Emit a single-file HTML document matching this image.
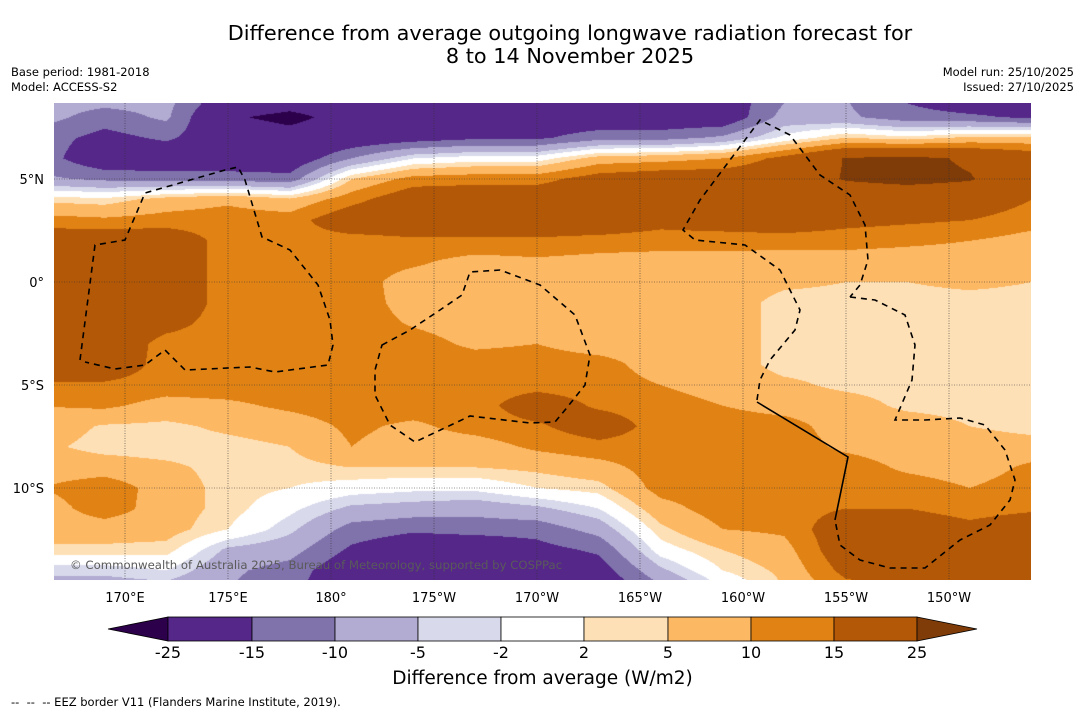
<!DOCTYPE html>
<html><head><meta charset="utf-8"><style>
body{margin:0;background:#fff;font-family:"DejaVu Sans","Liberation Sans",sans-serif;}
#wrap{position:relative;width:1085px;height:713px;overflow:hidden;background:#fff}
.t{position:absolute;white-space:pre;color:#000}
</style></head><body>
<div id="wrap">
<div class="t" style="left:0;width:1140px;text-align:center;top:22px;font-size:20.8px;line-height:23px">Difference from average outgoing longwave radiation forecast for
8 to 14 November 2025</div>
<div class="t" style="left:11px;top:65px;font-size:11.5px;line-height:15px">Base period: 1981-2018
Model: ACCESS-S2</div>
<div class="t" style="right:11px;top:65px;font-size:11.5px;line-height:15px;text-align:right">Model run: 25/10/2025
Issued: 27/10/2025</div>
<canvas id="map" width="977" height="477" style="position:absolute;left:54px;top:103px"></canvas>
<svg id="ov" width="1085" height="713" style="position:absolute;left:0;top:0"></svg>
<div class="t" style="left:70px;top:558px;font-size:11.7px;color:#5a5a5a">© Commonwealth of Australia 2025, Bureau of Meteorology, supported by COSPPac</div>
<div class="t" style="left:0;width:1085px;text-align:center;top:668px;font-size:18.5px">Difference from average (W/m2)</div>
<div class="t" style="left:11px;top:695px;font-size:11.5px">--  --  -- EEZ border V11 (Flanders Marine Institute, 2019).</div>
</div>
<script>
// grid longitudes (deg east) and latitudes
const lons=[166,169,172,175,178,181,184,187,190,193,196,199,202,205,208,211,214];
const lats=[9,8,7,6,5,4,3,2,1,0,-1,-2,-3,-4,-5,-6,-7,-8,-9,-10,-11,-12,-13,-14,-15];
// columns of values (W/m2), one per longitude, top to bottom by latitude
const c166=[-7.5,-8,-12.5,-12.5,-9,4,12,20,20,20,20,20,20,20,14,10,7.5,6,7.5,10,7.5,7.5,4,-4,-8];
const c169=[-7,-12.5,-17,-20,-11,3,11,20,20,20,20,20,20,20,14,11,4.5,3.5,7.5,13,12.5,7.5,4,-4,-8];
const c172=[-8,-9,-14,-20,-12,7,12,20,20,20,20,17,13,12.5,12.5,8,4,3,6,7.5,7.5,7,3.5,-2,-8];
const c175=[-18,-24,-20,-20,-12,9,12.5,12.5,12.5,12.5,12.5,12.5,12.5,12.5,12.5,9,6,3.5,3.5,3.5,3.5,2,-6,-9,-10];
const c178=[-20,-27,-22,-20,-13,6,12.5,13,12.5,12.5,12.5,12.5,12.5,12.5,12.5,11,7.5,5,3.5,2,-1,-4,-8,-12,-14];
const c181=[-20,-22,-20,-10,5,13,20,12.5,12.5,12.5,12.5,12.5,12.5,12.5,12.5,12.5,11,10,5,0,-6,-12,-16,-20,-20];
const c184=[-20,-20,-18,-2,12,20,20,14,11,7.5,8,9.5,12,12.5,12.5,12.5,9,7.5,5,-1,-7,-14,-20,-20,-20];
const c187=[-20,-20,-16,0,13,20,20,14,8,7.5,7.5,7.5,9,12.5,12.5,12.5,12,7.5,5,-1,-8,-13,-20,-21,-22];
const c190=[-20,-20,-16,0,13,20,20,14,9,7.5,7.5,7.5,10,12.5,13,19,14,11,6,2,-6,-13,-17,-21,-22];
const c193=[-20,-20,-12,7,18,20,20,13,8,7.5,7.5,7.5,7.5,12,12.5,14,19,13,8,3.5,-2,-8,-14,-18,-21];
const c196=[-20,-20,-12,8,20,20,17,12.5,7.5,7.5,7.5,7.5,7.5,7.5,10,12.5,12.5,12.5,12.5,12,8,4,0,-6,-12];
const c199=[-19,-20,-9,10,20,20,18,12.5,7.5,7.5,7.5,7.5,7.5,7.5,7.5,10,12.5,12.5,12.5,12.5,12.5,10,5,2,-3];
const c202=[-11,-8,-1,17,21,20,20,12,7.5,6,3.5,3.5,3.5,3.5,6,8,12,12.5,12.5,12.5,12.5,11,8,6,5];
const c205=[-10,-9,5,25.5,25.5,20,17,12,7.5,5,3.5,3.5,3.5,3.5,4,7,7.5,9,12.5,12.5,15,20,20,17,12];
const c208=[-16,-13,3,27,27,20,16,11,7.5,5,3.5,3.5,3.5,3.5,3.5,4,7.5,7.5,9,12.5,15,20,20,19,15];
const c211=[-20,-14,6,24,25.5,20,15,10,7.5,6,3.5,3.5,3.5,3.5,3.5,3.5,5,7.5,7.5,10,12.5,17,20,20,20];
const c214=[-20,-16,6,20,20,15,12,8,7,5,3.5,3.5,3.5,3.5,3.5,3.5,3.5,7,11,12.5,14,20,20,20,20];
const columns=[c166,c169,c172,c175,c178,c181,c184,c187,c190,c193,c196,c199,c202,c205,c208,c211,c214];
const levels=[-25,-15,-10,-5,-2,2,5,10,15,25];
const levelLabels=["-25","-15","-10","-5","-2","2","5","10","15","25"];
const fills=["#2d004b","#542788","#8073ac","#b2abd2","#d8daeb","#ffffff","#fee0b6","#fdb863","#e08214","#b35806","#7f3b08"];
const lonTicks=[170,175,180,185,190,195,200,205,210];
const lonTickLabels=["170°E","175°E","180°","175°W","170°W","165°W","160°W","155°W","150°W"];
const latTicks=[5,0,-5,-10];
const latTickLabels=["5°N","0°","5°S","10°S"];

// axis functions (page pixels)
const xOf=lon=>125+(lon-170)*20.6;
const yOf=lat=>282-lat*20.6;
const lonOf=x=>170+(x-125)/20.6;
const latOf=y=>(282-y)/20.6;

function hex(h){return [parseInt(h.slice(1,3),16),parseInt(h.slice(3,5),16),parseInt(h.slice(5,7),16)];}
const rgb=fills.map(hex);
function classOf(v){let i=0;while(i<levels.length&&v>=levels[i])i++;return i;}
function valAt(lon,lat){
  let ci=(lon-lons[0])/(lons[1]-lons[0]); let ri=(lats[0]-lat)/(lats[0]-lats[1]);
  ci=Math.max(0,Math.min(lons.length-1.0001,ci)); ri=Math.max(0,Math.min(lats.length-1.0001,ri));
  const c0=Math.floor(ci),r0=Math.floor(ri),fc=ci-c0,fr=ri-r0;
  const a=columns[c0][r0],b=columns[c0+1][r0],c=columns[c0][r0+1],d=columns[c0+1][r0+1];
  return (a*(1-fc)+b*fc)*(1-fr)+(c*(1-fc)+d*fc)*fr;
}
const cv=document.getElementById('map');const ctx=cv.getContext('2d');
const img=ctx.createImageData(cv.width,cv.height);
for(let py=0;py<cv.height;py++){const lat=latOf(py+103.5);
  for(let px=0;px<cv.width;px++){const k=classOf(valAt(lonOf(px+54.5),lat));const c=rgb[k];const o=(py*cv.width+px)*4;
    img.data[o]=c[0];img.data[o+1]=c[1];img.data[o+2]=c[2];img.data[o+3]=255;}}
ctx.putImageData(img,0,0);

const NS='http://www.w3.org/2000/svg';const svg=document.getElementById('ov');
const FF='DejaVu Sans, Liberation Sans, sans-serif';
function mk(tag,at){const e=document.createElementNS(NS,tag);for(const k in at)e.setAttribute(k,at[k]);svg.appendChild(e);return e;}
lonTicks.forEach((L,i)=>{const x=xOf(L);
  const g=mk('line',{x1:x,y1:103,x2:x,y2:580,stroke:'#333','stroke-width':0.6,'stroke-dasharray':'1,1.5'});
  
  
  const t=mk('text',{x:x,y:602,'font-size':13,'text-anchor':'middle','font-family':FF});t.textContent=lonTickLabels[i];
  
  });
latTicks.forEach((L,i)=>{const y=yOf(L);
  const g=mk('line',{x1:54,y1:y,x2:1031,y2:y,stroke:'#333','stroke-width':0.6,'stroke-dasharray':'1,1.5'});
  
  
  const t=mk('text',{x:44,y:y+5,'font-size':13,'text-anchor':'end','font-family':FF});t.textContent=latTickLabels[i];
  
  });
const eez=[
 "M80,360 L95,245 L125,240 L145,193 L225,170 L238,167 L245,180 L262,237 L290,250 L318,285 L330,320 L333,345 L328,365 L275,372 L250,367 L185,370 L165,350 L145,365 L115,369 L85,362",
 "M382,345 L410,330 L440,310 L462,295 L470,272 L500,270 L540,285 L575,315 L590,355 L585,385 L565,410 L555,422 L530,423 L470,416 L415,442 L390,425 L375,395 L375,370 Z",
 "M757,400 L760,380 L770,360 L795,330 L800,310 L780,270 L745,245 L695,240 L683,230 L700,200 L730,160 L760,120 L790,135 L820,175 L850,195 L865,225 L868,260 L860,285 L850,297",
 "M850,297 L875,300 L905,315 L915,345 L912,380 L895,420 L925,420 L960,418 L985,425 L1005,450 L1015,480 L1010,500 L990,525 L960,540 L925,568 L890,568 L860,560 L840,545 L835,520",
];
eez.forEach(d=>{const p=mk('path',{d:d,fill:'none',stroke:'#000','stroke-width':1.6,'stroke-dasharray':'6,5'});
  
  });
const sl=mk('path',{d:'M757,402 L848,457 L835,520',fill:'none',stroke:'#000','stroke-width':1.6});


const cbX=[168,252,335,418,501,584,668,751,834,917];
const tl=mk('polygon',{points:'108,629 168,617 168,641',fill:fills[0],stroke:'#000','stroke-width':0.8});


for(let i=0;i<levels.length-1;i++){const r=mk('rect',{x:cbX[i],y:617,width:cbX[i+1]-cbX[i],height:24,fill:fills[i+1],stroke:'#000','stroke-width':0.8});
  
  }
const tr=mk('polygon',{points:'917,617 977,629 917,641',fill:fills[10],stroke:'#000','stroke-width':0.8});


levels.forEach((v,i)=>{const t=mk('text',{x:cbX[i],y:658,'font-size':16,'text-anchor':'middle','font-family':FF});t.textContent=levelLabels[i];
  
  });
</script>
</body></html>
